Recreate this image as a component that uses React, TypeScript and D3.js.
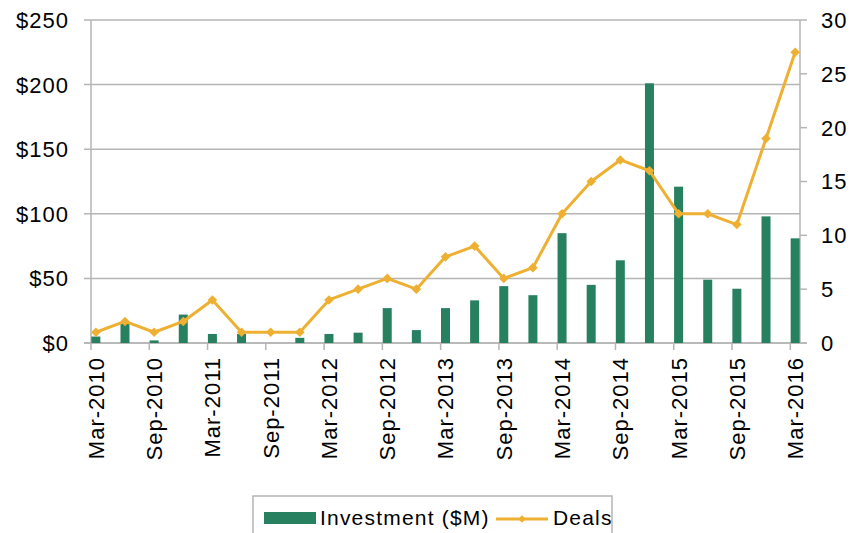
import React from 'react'
import * as d3 from 'd3'

// quarterly periods, Mar-2010 .. Mar-2016
const quarters = [
    'Mar-2010', 'Jun-2010', 'Sep-2010', 'Dec-2010',
    'Mar-2011', 'Jun-2011', 'Sep-2011', 'Dec-2011',
    'Mar-2012', 'Jun-2012', 'Sep-2012', 'Dec-2012',
    'Mar-2013', 'Jun-2013', 'Sep-2013', 'Dec-2013',
    'Mar-2014', 'Jun-2014', 'Sep-2014', 'Dec-2014',
    'Mar-2015', 'Jun-2015', 'Sep-2015', 'Dec-2015',
    'Mar-2016'
]
const investment = [5, 15, 2, 22, 7, 7, 0, 4, 7, 8, 27, 10, 27, 33, 44, 37, 85, 45, 64, 201, 121, 49, 42, 98, 81]
const deals = [1, 2, 1, 2, 4, 1, 1, 1, 4, 5, 6, 5, 8, 9, 6, 7, 12, 15, 17, 16, 12, 12, 11, 19, 27]
const leftTicks = [0, 50, 100, 150, 200, 250]
const rightTicks = [0, 5, 10, 15, 20, 25, 30]

const W = 852
const H = 533
const margin = { top: 20, right: 52, bottom: 190, left: 91 }
const FONT = "'Liberation Sans', Arial, sans-serif"
const GREEN = '#27805f'
const GOLD = '#eeb032'
const GRID = '#b5b5b5'

export default function App() {
    const x0 = margin.left
    const x1 = W - margin.right
    const y0 = H - margin.bottom
    const y1 = margin.top

    // date-style axis: one unit per month, 73 months Mar-2010..Mar-2016
    const months = (quarters.length - 1) * 3 + 1
    const xScale = d3.scaleLinear().domain([0, months]).range([x0, x1])
    const center = (i: number) => xScale(i * 3 + 0.5)
    const yLeft = d3.scaleLinear().domain([0, 250]).range([y0, y1])
    const yRight = d3.scaleLinear().domain([0, 30]).range([y0, y1])

    const line = d3
        .line<number>()
        .x((_, i) => center(i))
        .y((d) => yRight(d))

    const diamond = d3.symbol().type(d3.symbolSquare).size(46)()
    const barW = 9
    const labelIdx = d3.range(0, quarters.length, 2)
    const monthTicks = d3.range(0, months, 6)

    const textStyle = { fontFamily: FONT, fontSize: 22, letterSpacing: 1, fill: '#000' }
    const legendStyle = { fontFamily: FONT, fontSize: 21, letterSpacing: 1.2, fill: '#000' }

    return (
        <svg width={W} height={H} style={{ position: 'absolute', left: 0, top: 0 }}>
            <rect width={W} height={H} fill="#fff" />
            {/* gridlines */}
            {leftTicks.map((t) => (
                <line key={'g' + t} x1={x0 - 7} x2={x1} y1={yLeft(t)} y2={yLeft(t)} stroke={GRID} strokeWidth={1.5} />
            ))}
            {/* axes */}
            <line x1={x0} x2={x0} y1={y1} y2={y0} stroke={GRID} strokeWidth={1.5} />
            <line x1={x1} x2={x1} y1={y1} y2={y0} stroke={GRID} strokeWidth={1.5} />
            <line x1={x0 - 7} x2={x1 + 7} y1={y0} y2={y0} stroke={GRID} strokeWidth={1.5} />
            {rightTicks.map((t) => (
                <g key={'r' + t}>
                    <line x1={x1} x2={x1 + 7} y1={yRight(t)} y2={yRight(t)} stroke={GRID} strokeWidth={1.5} />
                    <text x={x1 + 21} y={yRight(t)} dy="0.36em" {...textStyle}>
                        {t}
                    </text>
                </g>
            ))}
            {leftTicks.map((t) => (
                <text key={'l' + t} x={x0 - 22} y={yLeft(t)} dy="0.36em" textAnchor="end" {...textStyle}>
                    {d3.format('$')(t)}
                </text>
            ))}
            {monthTicks.map((m) => (
                <line key={'t' + m} x1={xScale(m)} x2={xScale(m)} y1={y0} y2={y0 + 7} stroke={GRID} strokeWidth={1.5} />
            ))}
            {labelIdx.map((i) => (
                <text
                    key={'x' + i}
                    transform={`translate(${center(i)},${y0 + 14}) rotate(-90)`}
                    dy="0.36em"
                    textAnchor="end"
                    {...textStyle}
                >
                    {quarters[i]}
                </text>
            ))}
            {/* bars */}
            {investment.map((v, i) => (
                <rect key={'b' + i} x={center(i) - barW / 2} y={yLeft(v)} width={barW} height={y0 - yLeft(v)} fill={GREEN} />
            ))}
            {/* deals line */}
            <path d={line(deals) || ''} fill="none" stroke={GOLD} strokeWidth={3} strokeLinejoin="round" />
            {deals.map((d, i) => (
                <path key={'m' + i} d={diamond || ''} transform={`translate(${center(i)},${yRight(d)}) rotate(45)`} fill={GOLD} />
            ))}
            {/* legend */}
            <rect x={253} y={496} width={359} height={50} fill="none" stroke={GRID} strokeWidth={1.5} />
            <rect x={264} y={512} width={52} height={12} fill={GREEN} />
            <text x={320} y={525} {...legendStyle}>
                Investment ($M)
            </text>
            <line x1={496} x2={548} y1={519} y2={519} stroke={GOLD} strokeWidth={3} />
            <path d={d3.symbol().type(d3.symbolSquare).size(30)() || ''} transform="translate(522,519) rotate(45)" fill={GOLD} />
            <text x={553} y={525} {...legendStyle}>
                Deals
            </text>
        </svg>
    )
}
